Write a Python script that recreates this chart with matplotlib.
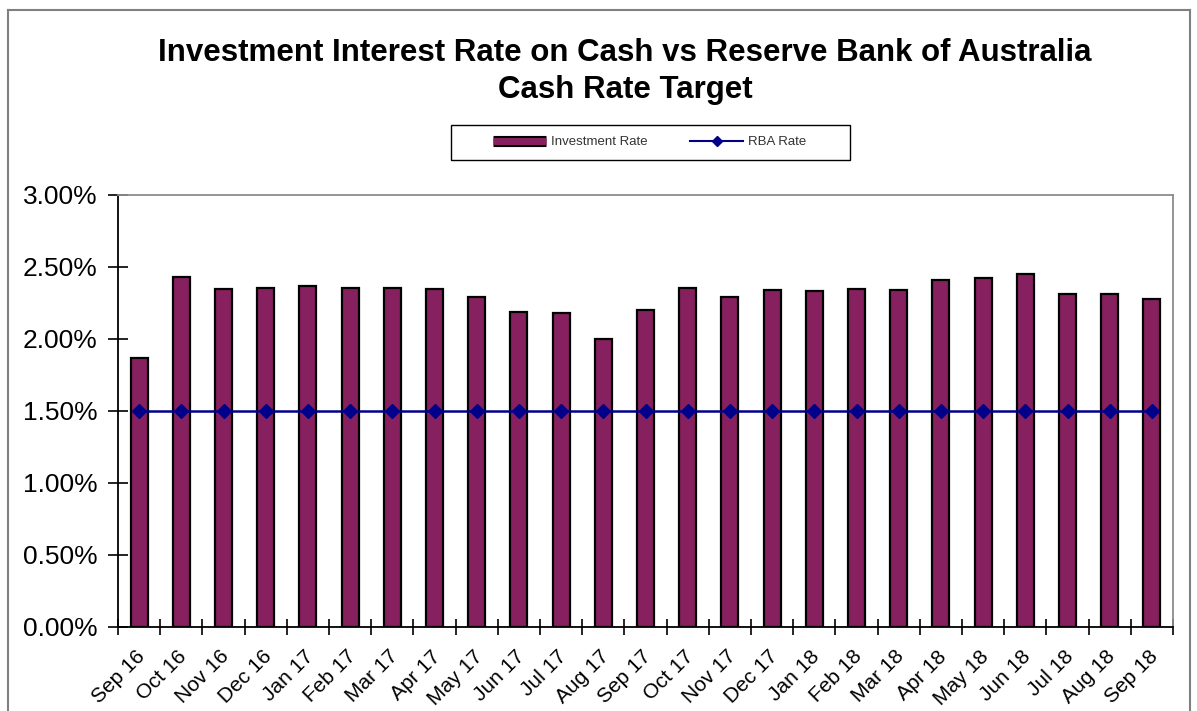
import matplotlib
matplotlib.use("Agg")
import matplotlib.pyplot as plt
import matplotlib.patheffects as pe
from matplotlib.lines import Line2D
from matplotlib.patches import Rectangle
from matplotlib.ticker import FuncFormatter
from matplotlib.transforms import ScaledTranslation
import numpy as np

plt.rcParams['font.family'] = ['Liberation Sans', 'DejaVu Sans']

# data
months = ["Sep 16", "Oct 16", "Nov 16", "Dec 16", "Jan 17", "Feb 17", "Mar 17",
          "Apr 17", "May 17", "Jun 17", "Jul 17", "Aug 17", "Sep 17", "Oct 17",
          "Nov 17", "Dec 17", "Jan 18", "Feb 18", "Mar 18", "Apr 18", "May 18",
          "Jun 18", "Jul 18", "Aug 18", "Sep 18"]
investment_rate = [1.87, 2.43, 2.35, 2.355, 2.365, 2.355, 2.355, 2.35, 2.29,
                   2.19, 2.18, 2.00, 2.20, 2.355, 2.29, 2.34, 2.33, 2.35, 2.34,
                   2.41, 2.425, 2.45, 2.31, 2.31, 2.28]
rba_rate = [1.50] * 25
y_ticks = [0.0, 0.5, 1.0, 1.5, 2.0, 2.5, 3.0]

bar_color = "#86205f"
line_color = "#00008b"
W, H = 1197, 711

fig = plt.figure(figsize=(W / 100, H / 100), dpi=100)
ax = fig.add_axes([118 / W, 1 - 627 / H, (1173 - 118) / W, (627 - 195) / H])

x = np.arange(len(months))
ax.bar(x, investment_rate, width=0.4, color=bar_color, edgecolor="black", linewidth=1.6, zorder=2)
ax.plot(x, rba_rate, color=line_color, linewidth=1.8, marker="D", markersize=7,
        markerfacecolor=line_color, markeredgecolor=line_color, zorder=3)

ax.set_xlim(-0.5, len(months) - 0.5)
ax.set_ylim(0, 3.0)
ax.set_yticks(y_ticks)
ax.yaxis.set_major_formatter(FuncFormatter(lambda v, p: f"{v:.2f}%"))
ax.tick_params(axis="y", labelsize=19, length=14, width=1.2, direction="inout", pad=8)

# category labels at centres, tick marks between categories
ax.set_xticks(x)
ax.set_xticklabels(months, rotation=45, ha="right", rotation_mode="anchor", fontsize=15)
ax.tick_params(axis="x", which="major", length=0, pad=10)
ax.set_xticks(np.arange(len(months) + 1) - 0.5, minor=True)
ax.tick_params(axis="x", which="minor", length=12, width=1.2, direction="inout")
shift = ScaledTranslation(-4 / 100, -6 / 100, fig.dpi_scale_trans)
for lab in ax.get_xticklabels():
    lab.set_transform(lab.get_transform() + shift)

for side in ["left", "bottom"]:
    ax.spines[side].set_color("black")
    ax.spines[side].set_linewidth(1.3)
for side in ["top", "right"]:
    ax.spines[side].set_color("#8c8c8c")
    ax.spines[side].set_linewidth(1.3)

fig.text(625 / W, 1 - 53 / H, "Investment Interest Rate on Cash vs Reserve Bank of Australia",
         ha="center", va="center", fontsize=22.5, fontweight="bold")
fig.text(625 / W, 1 - 90 / H, "Cash Rate Target",
         ha="center", va="center", fontsize=22.5, fontweight="bold")

# legend: frame drawn separately so it can be wider than its content
fig.add_artist(Rectangle((451 / W, 1 - 160 / H), (850 - 451) / W, 35 / H, transform=fig.transFigure,
                         facecolor="white", edgecolor="black", linewidth=1.0))
handles = [
    Line2D([0], [0], color=bar_color, linewidth=5, solid_capstyle="butt",
           path_effects=[pe.Stroke(linewidth=8, foreground="black"), pe.Normal()]),
    Line2D([0], [0], color=line_color, linewidth=1.5, marker="D", markersize=5),
]
leg = fig.legend(handles, ["Investment Rate", "RBA Rate"], loc="center",
                 bbox_to_anchor=(650 / W, 1 - 142 / H), ncol=2, fontsize=9.5,
                 frameon=False, handlelength=4.0, handletextpad=0.4, columnspacing=3.2)
for t in leg.get_texts():
    t.set_color("#333333")

# outer chart border (bottom cropped in the reference)
fig.add_artist(Line2D([8 / W, 8 / W], [0, 1 - 10 / H], color="#808080", linewidth=1.5))
fig.add_artist(Line2D([8 / W, 1190 / W], [1 - 10 / H, 1 - 10 / H], color="#808080", linewidth=1.5))
fig.add_artist(Line2D([1190 / W, 1190 / W], [0, 1 - 10 / H], color="#808080", linewidth=1.5))

fig.savefig("out.png", dpi=100)
